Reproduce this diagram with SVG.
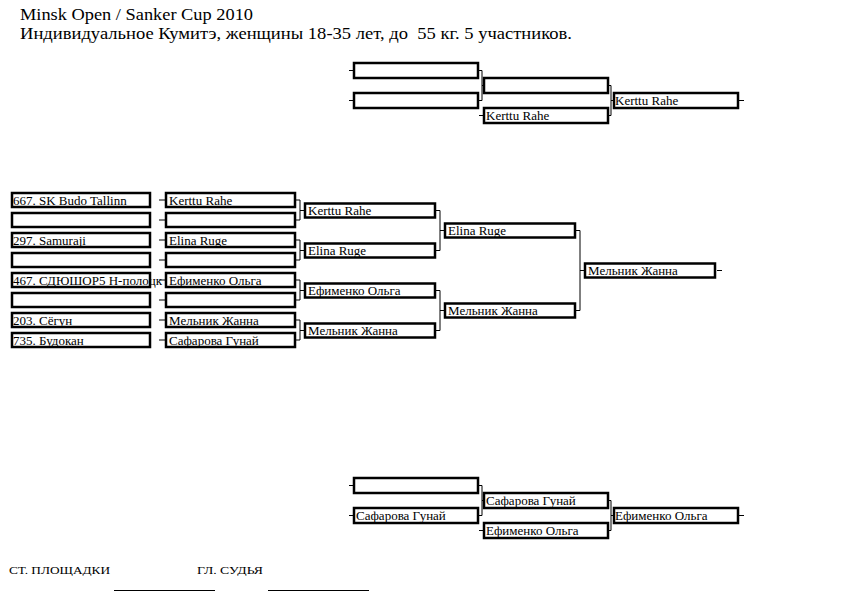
<svg xmlns="http://www.w3.org/2000/svg" width="842" height="595" viewBox="0 0 842 595">
<style>
.box{fill:#fff;stroke:#000;stroke-width:2.5}
.ln{fill:none;stroke:#000;stroke-width:1}
.t{font-family:"Liberation Serif","Times New Roman","DejaVu Serif",serif;font-size:13px;fill:#000}
.h{font-family:"Liberation Serif","Times New Roman","DejaVu Serif",serif;font-size:17px;fill:#000;white-space:pre}
.f{font-family:"Liberation Serif","Times New Roman","DejaVu Serif",serif;font-size:11px;fill:#000}
</style>
<rect width="842" height="595" fill="#fff"/>
<g id="title">
<text class="h" x="20" y="20" textLength="233" lengthAdjust="spacingAndGlyphs">Minsk Open / Sanker Cup 2010</text>
<text class="h" x="20" y="39" textLength="552" lengthAdjust="spacingAndGlyphs" xml:space="preserve">Индивидуальное Кумитэ, женщины 18-35 лет, до  55 кг. 5 участников.</text>
</g>
<g id="connectors">
<path class="ln" d="M159,200H165M159,220H165M159,240H165M159,260H165M159,280H165M159,300H165M159,320H165M159,340H165"/>
<path class="ln" d="M296,200H300V220H296M300,210.5H305M296,240H300V260H296M300,250.5H305M296,280H300V300H296M300,290.5H305M296,320H300V340H296M300,330.5H305"/>
<path class="ln" d="M436,210.5H440V250.5H436M440,230.5H445M436,290.5H440V330.5H436M440,310.5H445"/>
<path class="ln" d="M576,230.5H580V310.5H576M580,270.5H585M717,270.5H722"/>
<path class="ln" d="M349,70.5H354M349,100.5H354M479,70.5H482V100.5H479M482,85.5H484M479,115.5H484M609,85.5H611V115.5H609M611,100.5H614M739,100.5H744"/>
<path class="ln" d="M349,485.5H354M349,515.5H354M479,485.5H482V515.5H479M482,500.5H484M479,530.5H484M609,500.5H611V530.5H609M611,515.5H614M739,515.5H744"/>
</g>
<g id="r1-0"><rect class="box" x="12" y="193" width="138" height="14"/><text class="t" x="13" y="204.5">667. SK Budo Tallinn</text></g>
<g id="r1-1"><rect class="box" x="12" y="213" width="138" height="14"/></g>
<g id="r1-2"><rect class="box" x="12" y="233" width="138" height="14"/><text class="t" x="13" y="244.5">297. Samuraji</text></g>
<g id="r1-3"><rect class="box" x="12" y="253" width="138" height="14"/></g>
<g id="r1-4"><rect class="box" x="12" y="273" width="138" height="14"/><text class="t" x="13" y="284.5">467. СДЮШОР5 Н-полоцк</text></g>
<g id="r1-5"><rect class="box" x="12" y="293" width="138" height="14"/></g>
<g id="r1-6"><rect class="box" x="12" y="313" width="138" height="14"/><text class="t" x="13" y="324.5">203. Сёгун</text></g>
<g id="r1-7"><rect class="box" x="12" y="333" width="138" height="14"/><text class="t" x="13" y="344.5">735. Будокан</text></g>
<g id="r2-0"><rect class="box" x="166" y="193" width="129" height="14"/><text class="t" x="169" y="204.5">Kerttu Rahe</text></g>
<g id="r2-1"><rect class="box" x="166" y="213" width="129" height="14"/></g>
<g id="r2-2"><rect class="box" x="166" y="233" width="129" height="14"/><text class="t" x="169" y="244.5">Elina Ruge</text></g>
<g id="r2-3"><rect class="box" x="166" y="253" width="129" height="14"/></g>
<g id="r2-4"><rect class="box" x="166" y="273" width="129" height="14"/><text class="t" x="169" y="284.5">Ефименко Ольга</text></g>
<g id="r2-5"><rect class="box" x="166" y="293" width="129" height="14"/></g>
<g id="r2-6"><rect class="box" x="166" y="313" width="129" height="14"/><text class="t" x="169" y="324.5">Мельник Жанна</text></g>
<g id="r2-7"><rect class="box" x="166" y="333" width="129" height="14"/><text class="t" x="169" y="344.5">Сафарова Гунай</text></g>
<g id="r3-0"><rect class="box" x="305" y="203.5" width="130" height="14"/><text class="t" x="308" y="215">Kerttu Rahe</text></g>
<g id="r3-1"><rect class="box" x="305" y="243.5" width="130" height="14"/><text class="t" x="308" y="255">Elina Ruge</text></g>
<g id="r3-2"><rect class="box" x="305" y="283.5" width="130" height="14"/><text class="t" x="308" y="295">Ефименко Ольга</text></g>
<g id="r3-3"><rect class="box" x="305" y="323.5" width="130" height="14"/><text class="t" x="308" y="335">Мельник Жанна</text></g>
<g id="r4-0"><rect class="box" x="445" y="223.5" width="130" height="14"/><text class="t" x="448" y="235">Elina Ruge</text></g>
<g id="r4-1"><rect class="box" x="445" y="303.5" width="130" height="14"/><text class="t" x="448" y="315">Мельник Жанна</text></g>
<g id="final"><rect class="box" x="585" y="263.5" width="130" height="14"/><text class="t" x="588" y="275">Мельник Жанна</text></g>
<g id="top-a"><rect class="box" x="354" y="63" width="124" height="15"/></g>
<g id="top-b"><rect class="box" x="354" y="93" width="124" height="15"/></g>
<g id="top-c"><rect class="box" x="484" y="78" width="124" height="15"/></g>
<g id="top-d"><rect class="box" x="484" y="108" width="124" height="15"/><text class="t" x="486" y="119.5">Kerttu Rahe</text></g>
<g id="top-e"><rect class="box" x="614" y="93" width="124" height="15"/><text class="t" x="615" y="104.5">Kerttu Rahe</text></g>
<g id="bot-a"><rect class="box" x="354" y="478" width="124" height="15"/></g>
<g id="bot-b"><rect class="box" x="354" y="508" width="124" height="15"/><text class="t" x="356" y="519.5">Сафарова Гунай</text></g>
<g id="bot-c"><rect class="box" x="484" y="493" width="124" height="15"/><text class="t" x="486" y="504.5">Сафарова Гунай</text></g>
<g id="bot-d"><rect class="box" x="484" y="523" width="124" height="15"/><text class="t" x="486" y="534.5">Ефименко Ольга</text></g>
<g id="bot-e"><rect class="box" x="614" y="508" width="124" height="15"/><text class="t" x="615" y="519.5">Ефименко Ольга</text></g>
<g id="footer">
<text class="f" x="9" y="574" textLength="101" lengthAdjust="spacingAndGlyphs">СТ. ПЛОЩАДКИ</text>
<text class="f" x="197" y="574" textLength="66" lengthAdjust="spacingAndGlyphs">ГЛ. СУДЬЯ</text>
<path class="ln" d="M114,590.5H215M268,590.5H369"/>
</g>
</svg>
